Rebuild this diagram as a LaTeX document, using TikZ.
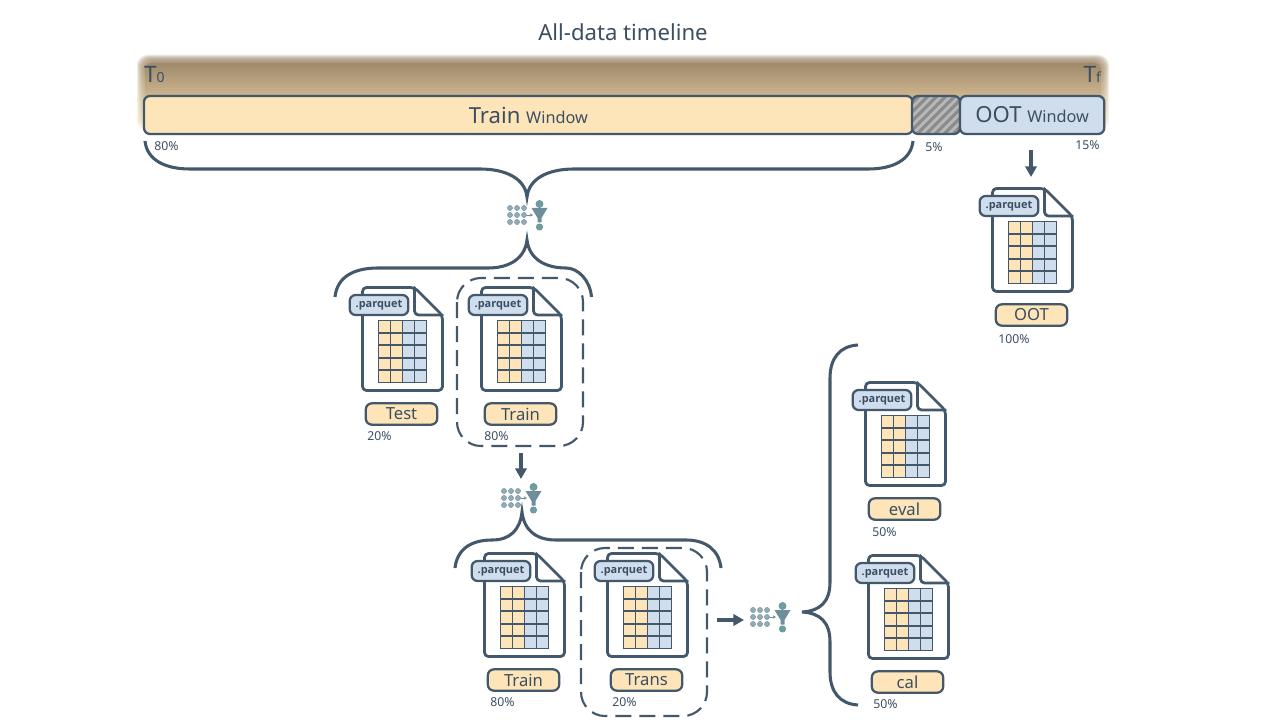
\documentclass[tikz,border=0pt]{standalone}
\usepackage{fontspec}
\setmainfont{Noto Sans}
\newfontfamily\tagfont{Open Sans}
\usetikzlibrary{arrows.meta}
\definecolor{ink}{HTML}{44586B}
\definecolor{txt}{HTML}{3B4E62}
\definecolor{cream}{HTML}{FEE5B9}
\definecolor{paleblue}{HTML}{CFDDED}
\definecolor{hatchbg}{HTML}{B8B8B8}
\definecolor{hatchln}{HTML}{8C8C8C}
\definecolor{dotc}{HTML}{93ADB8}
\definecolor{func}{HTML}{6F8E9B}
\definecolor{headc}{HTML}{6E9EA3}
\definecolor{bandtop}{HTML}{A08A6C}
\definecolor{bandbot}{HTML}{F2D8AC}
\tikzset{
  x=0.75pt,y=-0.75pt,
  box/.style={draw=ink,line width=1.7pt,rounded corners=4.5pt,outer sep=0pt},
  line/.style={draw=ink,line width=2.1pt,line cap=round,line join=round},
  brace/.style={draw=ink,line width=2.3pt},
  dashbox/.style={draw=ink,line width=1.6pt,rounded corners=18pt,dash pattern=on 12pt off 6pt},
  arrowln/.style={draw=ink,line width=2.4pt,-{Triangle[length=8pt,width=8.5pt]}},
  pct/.style={text=txt,font=\fontsize{9.2pt}{11pt}\selectfont,anchor=west,inner sep=0pt},
  labelbox/.style={box,fill=cream,text=txt,minimum width=53.5pt,minimum height=16pt,inner sep=0pt,font=\fontsize{12.5pt}{14pt}\selectfont},
  tagbox/.style={box,fill=paleblue,text=txt,minimum width=44pt,minimum height=15pt,inner sep=0pt,font=\tagfont\bfseries\fontsize{8.2pt}{10pt}\selectfont},
  gridline/.style={draw=ink,line width=1.35pt},
  brand/.style={text=txt,inner sep=0pt,outer sep=0pt},
  funcline/.style={draw=func,line width=.7pt,-{Stealth[length=2.5pt,width=2.5pt]}},
}
% name, x, y, label
\newcommand{\dataicon}[4]{%
  \begin{scope}[shift={(#2+0.5,#3+0.5)}]
    \draw[line,fill=white,rounded corners=3pt] (0,0) -- (52,0) -- (80,28) -- (80,103) -- (0,103) -- cycle;
    \draw[line,rounded corners=3pt] (52,0) -- (52,27.5) -- (80,27.5);
    \fill[cream] (16,33) rectangle (40,95);
    \fill[paleblue] (40,33) rectangle (64,95);
    \foreach \cx in {16,28,40,52,64} \draw[gridline] (\cx,33) -- (\cx,95);
    \foreach \cy in {33,45.4,57.8,70.2,82.6,95} \draw[gridline,line cap=rect] (16,\cy) -- (64,\cy);
    \node[tagbox] (#1tag) at (16.5,17.5) {.parquet};
    \node[labelbox] (#1) at (39,126.5) {#4};
  \end{scope}}
% name, x, y
\newcommand{\filtericon}[3]{%
  \begin{scope}[shift={(#2,#3)}]
    \foreach \i in {0,7,14} \foreach \j in {-7,0,7}
      \draw[fill=dotc,draw=dotc!75!ink,line width=.5pt] (\i,\j) circle (2.5);
    \draw[funcline] (16.5,0) -- (23,0);
    \draw[fill=headc,draw=headc!80!ink,line width=.4pt] (29.5,-11) circle (3.6);
    \fill[func] (21.5,-7) -- (37.5,-7) -- (31.5,3) -- (31.5,7.5) -- (27.5,7.5) -- (27.5,3) -- cycle;
    \draw[fill=headc,draw=headc!80!ink,line width=.4pt] (29.5,12) circle (3.2);
    \coordinate (#1) at (14,0);
  \end{scope}}
\begin{document}
\begin{tikzpicture}
\useasboundingbox (0,0) rectangle (1280,720);
% soft band
\foreach \d in {0,1,...,7}
  \shade[top color=bandtop,bottom color=bandbot,opacity=.22,rounded corners=8pt]
    (137+\d,55+\d) rectangle (1109-\d,131-\d);
\shade[top color=bandtop,bottom color=bandbot,rounded corners=5pt]
    (145,63) rectangle (1101,123);
\node[brand,font=\fontsize{16.6pt}{18pt}\selectfont] (title) at (623,32) {All-data timeline};
\node[brand,font=\fontsize{17pt}{18pt}\selectfont,anchor=base west] (t0) at (144,83) {T\fontsize{10.5pt}{12pt}\selectfont 0};
\node[brand,font=\fontsize{17pt}{18pt}\selectfont,anchor=base east] (tf) at (1101,83) {T\fontsize{10.5pt}{12pt}\selectfont f};
% windows
\node[box,fill=cream,brand,draw=ink,minimum width=576.5pt,minimum height=28.5pt,anchor=north west,font=\fontsize{16.6pt}{18pt}\selectfont] (trainwin) at (144,96)
  {Train \fontsize{12.2pt}{14pt}\selectfont Window};
\begin{scope}
  \clip[rounded corners=4.5pt] (912,96) rectangle (960,134);
  \fill[hatchbg] (912,96) rectangle (960,134);
  \foreach \k in {-4,...,8}
    \draw[hatchln,line width=2.4pt] (902+\k*9,140) -- (960+\k*9,82);
\end{scope}
\node[box,minimum width=36pt,minimum height=28.5pt,anchor=north west] (gapwin) at (912,96) {};
\node[box,fill=paleblue,brand,draw=ink,minimum width=108.2pt,minimum height=28.5pt,anchor=north west,font=\fontsize{16.6pt}{18pt}\selectfont] (ootwin) at (960,96)
  {OOT \fontsize{12.2pt}{14pt}\selectfont Window};
% percentages under the bar
\node[pct] at (154,146) {80\%};
\node[pct] at (925,147) {5\%};
\node[pct] at (1075,145) {15\%};
% braces
\draw[brace] (145,141) .. controls (147,160) and (165,169) .. (190,169) -- (480,169)
  .. controls (505,169) and (525,178) .. (527,197)
  .. controls (529,178) and (549,169) .. (574,169) -- (868,169)
  .. controls (893,169) and (911,160) .. (913,141);
\draw[brace] (335,297) .. controls (337,278) and (352,268) .. (378,268) -- (488,268)
  .. controls (510,268) and (525,258) .. (527,240)
  .. controls (529,258) and (544,268) .. (566,268)
  .. controls (578,268) and (590,280) .. (591.5,297);
\draw[brace] (455,568) .. controls (457,550) and (470,540) .. (492,540) .. controls (510,540) and (520,530) .. (522,512)
  .. controls (524,530) and (536,540) .. (556,540) -- (686,540)
  .. controls (706,540) and (719,550) .. (721,568);
\draw[brace] (858,345) .. controls (840,346) and (830,358) .. (830,378) -- (830,582)
  .. controls (830,602) and (820,611) .. (802,612)
  .. controls (820,613) and (830,622) .. (830,642) -- (830,672)
  .. controls (830,692) and (840,704) .. (858,705);
% dashed groups
\draw[dashbox] (457,278) rectangle (583,446);
\draw[dashbox] (581,548) rectangle (707,716);
% files
\dataicon{oot}{992}{188}{OOT}
\dataicon{test}{362}{287}{Test}
\dataicon{train}{481}{287}{Train}
\dataicon{trainb}{484}{553}{Train}
\dataicon{trans}{607}{553}{Trans}
\dataicon{eval}{865}{382}{eval}
\dataicon{cal}{868}{555}{cal}
% filters
\filtericon{fa}{510}{215}
\filtericon{fb}{504}{498}
\filtericon{fc}{753}{617}
% percentages
\node[pct] at (998,339) {100\%};
\node[pct] at (367,436) {20\%};
\node[pct] at (484,436) {80\%};
\node[pct] at (490,702) {80\%};
\node[pct] at (612,702) {20\%};
\node[pct] at (872,532) {50\%};
\node[pct] at (873,704) {50\%};
% arrows
\coordinate (a1) at (1031,150); \coordinate (a2) at (1031,177);
\coordinate (b1) at (521,453); \coordinate (b2) at (521,479);
\coordinate (c1) at (717,620); \coordinate (c2) at (744,620);
\draw[arrowln] (a1) -- (a2);
\draw[arrowln] (b1) -- (b2);
\draw[arrowln] (c1) -- (c2);
\end{tikzpicture}
\end{document}
